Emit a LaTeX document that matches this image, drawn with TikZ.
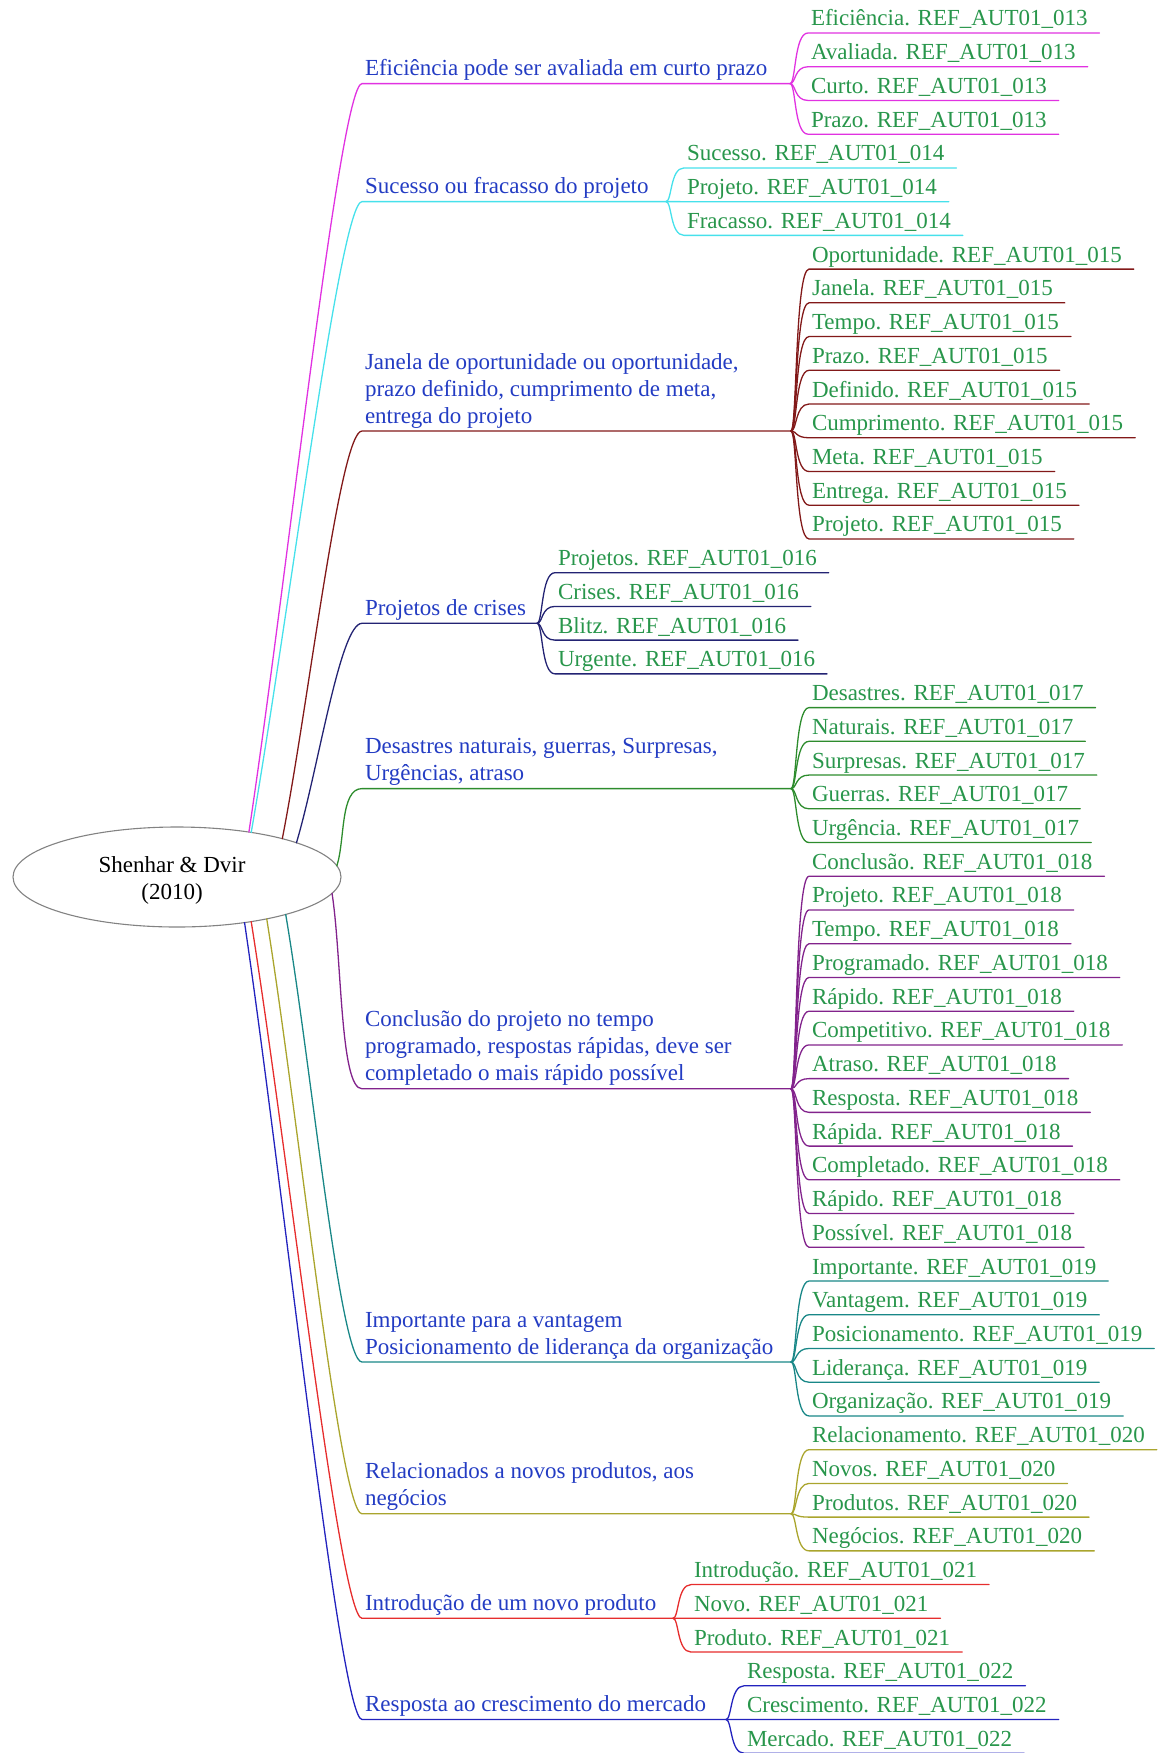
\documentclass[tikz,border=0pt]{standalone}
\usepackage{fontspec}
\setmainfont{Liberation Serif}
\usetikzlibrary{shapes.geometric,calc}

\definecolor{topicblue}{RGB}{35,60,195}
\definecolor{leafgreen}{RGB}{40,150,75}
\definecolor{rootgray}{RGB}{130,130,130}
\definecolor{cMag}{RGB}{225,50,225}
\definecolor{cCyan}{RGB}{70,225,235}
\definecolor{cBrown}{RGB}{130,25,25}
\definecolor{cNavy}{RGB}{35,35,115}
\definecolor{cGreen}{RGB}{45,140,45}
\definecolor{cPurple}{RGB}{130,35,140}
\definecolor{cTeal}{RGB}{25,135,135}
\definecolor{cOlive}{RGB}{170,165,45}
\definecolor{cRed}{RGB}{230,45,45}
\definecolor{cBlue}{RGB}{35,35,190}

\newcommand\mmfont{\fontsize{23pt}{27pt}\selectfont}
\newcommand\mmlines[1]{\begin{tabular}[b]{@{}l@{}}#1\end{tabular}}

% main topic: id, angle on the root ellipse, fork x, fork y, label
\newcommand\mmbranch[5]{%
  \coordinate (#1s) at (362,#4);
  \coordinate (#1f) at (#3,#4);
  \node[topic] (#1) at (365,#4-8) {#5};
  \draw[#1line] (root.#2) .. controls ($(root.#2)!0.33!(#1s)$) and ($(#1s)+(-22,0)$) .. (#1s) -- (#1f);
}
% one keyword: branch id, row, word, fork x, reference code
\newcommand\mmleaf[5]{%
  \pgfmathsetmacro\mmy{33+33.73*#2}%
  \coordinate (#1c#2) at (#4+18,\mmy);
  \node[leaf] (#1t#2) at (#4+21,\mmy-7) {#3. REF\_AUT01\_#5};
  \draw[#1line] (#1f) .. controls ($(#1f)+(6,0)$) and ($(#1c#2)+(-14,0)$) .. (#1c#2) -- ($(#1t#2.base east)+(12,7)$);
}
% all keywords of a branch: branch id, first row, fork x, code, words
\newcommand\mmleaves[5]{%
  \foreach \w [count=\k from #2] in {#5} {\mmleaf{#1}{\k}{\w}{#3}{#4}}%
}

\begin{document}
\begin{tikzpicture}[x=1pt,y=-1pt,
  every node/.style={inner sep=0pt, outer sep=0pt},
  topic/.style={anchor=base west, font=\mmfont, text=topicblue},
  leaf/.style={anchor=base west, font=\mmfont, text=leafgreen},
  link/.style={line width=1.3pt, line cap=round},
  b1line/.style={link, draw=cMag},
  b2line/.style={link, draw=cCyan},
  b3line/.style={link, draw=cBrown},
  b4line/.style={link, draw=cNavy},
  b5line/.style={link, draw=cGreen},
  b6line/.style={link, draw=cPurple},
  b7line/.style={link, draw=cTeal},
  b8line/.style={link, draw=cOlive},
  b9line/.style={link, draw=cRed},
  b10line/.style={link, draw=cBlue}]

\useasboundingbox (0,0) rectangle (1161,1753);

\node[ellipse, draw=rootgray, line width=1.1pt, minimum width=328pt, minimum height=100pt,
      font=\mmfont] (root) at (177,877)
  {\raisebox{-3.5pt}[\height][\depth]{\begin{tabular}{@{}c@{}}Shenhar \& Dvir\\(2010)\end{tabular}}\hspace*{10pt}};

% main topics
\mmbranch{b1}{32.5}{790}{83.6}{Eficiência pode ser avaliada em curto prazo}
\mmbranch{b2}{31}{666}{201.6}{Sucesso ou fracasso do projeto}
\mmbranch{b3}{20.2}{791}{431}{\mmlines{Janela de oportunidade ou oportunidade,\\prazo definido, cumprimento de meta,\\entrega do projeto}}
\mmbranch{b4}{16.5}{537}{623.3}{Projetos de crises}
\mmbranch{b5}{4.6}{791}{788.6}{\mmlines{Desastres naturais, guerras, Surpresas,\\Urgências, atraso}}
\mmbranch{b6}{-6.7}{791}{1088.8}{\mmlines{Conclusão do projeto no tempo\\programado, respostas rápidas, deve ser\\completado o mais rápido possível}}
\mmbranch{b7}{-19.4}{791}{1362}{\mmlines{Importante para a vantagem\\Posicionamento de liderança da organização}}
\mmbranch{b8}{-25}{791}{1513.8}{\mmlines{Relacionados a novos produtos, aos\\negócios}}
\mmbranch{b9}{-31.3}{673}{1618.3}{Introdução de um novo produto}
\mmbranch{b10}{-34.9}{726}{1719.5}{Resposta ao crescimento do mercado}

% keywords
\mmleaves{b1}{0}{790}{013}{Eficiência,Avaliada,Curto,Prazo}
\mmleaves{b2}{4}{666}{014}{Sucesso,Projeto,Fracasso}
\mmleaves{b3}{7}{791}{015}{Oportunidade,Janela,Tempo,Prazo,Definido,Cumprimento,Meta,Entrega,Projeto}
\mmleaves{b4}{16}{537}{016}{Projetos,Crises,Blitz,Urgente}
\mmleaves{b5}{20}{791}{017}{Desastres,Naturais,Surpresas,Guerras,Urgência}
\mmleaves{b6}{25}{791}{018}{Conclusão,Projeto,Tempo,Programado,Rápido,Competitivo,Atraso,Resposta,Rápida,Completado,Rápido,Possível}
\mmleaves{b7}{37}{791}{019}{Importante,Vantagem,Posicionamento,Liderança,Organização}
\mmleaves{b8}{42}{791}{020}{Relacionamento,Novos,Produtos,Negócios}
\mmleaves{b9}{46}{673}{021}{Introdução,Novo,Produto}
\mmleaves{b10}{49}{726}{022}{Resposta,Crescimento,Mercado}

\end{tikzpicture}
\end{document}
